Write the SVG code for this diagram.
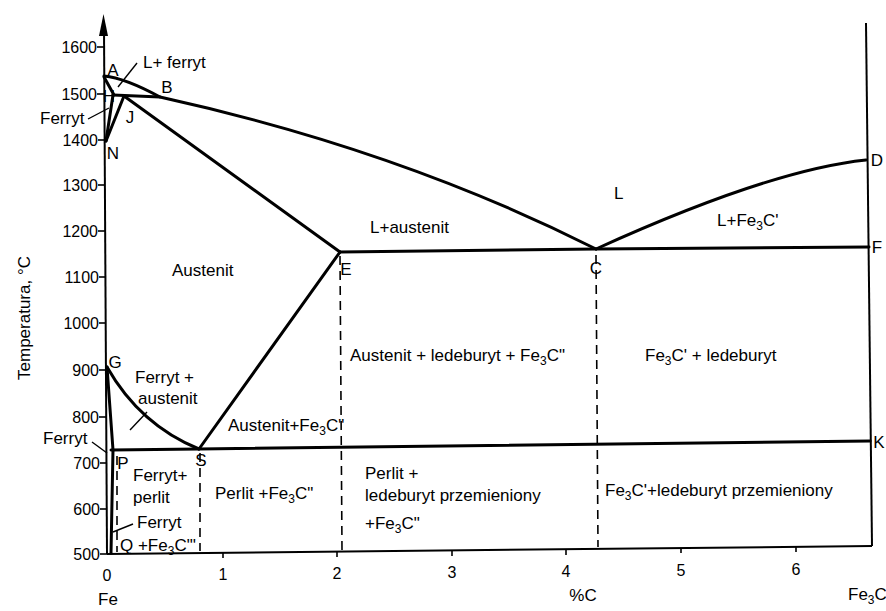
<svg xmlns="http://www.w3.org/2000/svg" width="886" height="611" viewBox="0 0 886 611">
<style>
text{font-family:"Liberation Sans",Arial,sans-serif;fill:#000}
.lbl{font-size:17px}
.num{font-size:16px}
.pt{font-size:17px}
.thick{fill:none;stroke:#000;stroke-width:3;stroke-linejoin:round;stroke-linecap:round}
.axis{fill:none;stroke:#000;stroke-width:2}
.dash{fill:none;stroke:#000;stroke-width:1.6;stroke-dasharray:9,6}
.lead{fill:none;stroke:#000;stroke-width:1.4}
.tick{stroke:#000;stroke-width:1.6}
</style>
<rect width="886" height="611" fill="#fff"/>
<g id="axes">
<line class="axis" x1="107" y1="554" x2="104" y2="28"/>
<polygon points="103.5,14 99,36 108,36" fill="#000"/>
<line class="axis" x1="107" y1="554" x2="872" y2="546"/>
<line class="axis" x1="866" y1="23" x2="872" y2="546"/>
<g id="yticks">
<line class="tick" x1="97" y1="47" x2="104" y2="47"/>
<line class="tick" x1="97" y1="94" x2="104" y2="94"/>
<line class="tick" x1="98" y1="140" x2="105" y2="140"/>
<line class="tick" x1="98" y1="185" x2="105" y2="185"/>
<line class="tick" x1="98" y1="231" x2="105" y2="231"/>
<line class="tick" x1="99" y1="277" x2="106" y2="277"/>
<line class="tick" x1="99" y1="323" x2="106" y2="323"/>
<line class="tick" x1="99" y1="370" x2="106" y2="370"/>
<line class="tick" x1="99" y1="417" x2="106" y2="417"/>
<line class="tick" x1="100" y1="463" x2="107" y2="463"/>
<line class="tick" x1="100" y1="509" x2="107" y2="509"/>
<line class="tick" x1="100" y1="554" x2="107" y2="554"/>
</g>
<g id="xticks">
<line class="tick" x1="223" y1="553" x2="223" y2="558"/>
<line class="tick" x1="337" y1="552" x2="337" y2="557"/>
<line class="tick" x1="452" y1="551" x2="452" y2="556"/>
<line class="tick" x1="566" y1="550" x2="566" y2="555"/>
<line class="tick" x1="681" y1="548" x2="681" y2="553"/>
<line class="tick" x1="796" y1="547" x2="796" y2="552"/>
</g>
<g id="ylabels" class="num" text-anchor="end">
<text class="num" x="97" y="53">1600</text>
<text class="num" x="97" y="100">1500</text>
<text class="num" x="98" y="146">1400</text>
<text class="num" x="98" y="191">1300</text>
<text class="num" x="98" y="237">1200</text>
<text class="num" x="99" y="283">1100</text>
<text class="num" x="99" y="329">1000</text>
<text class="num" x="99" y="376">900</text>
<text class="num" x="99" y="423">800</text>
<text class="num" x="100" y="469">700</text>
<text class="num" x="100" y="515">600</text>
<text class="num" x="100" y="560">500</text>
</g>
<g id="xlabels" text-anchor="middle">
<text class="num" x="107" y="581">0</text>
<text class="num" x="223" y="580">1</text>
<text class="num" x="337" y="579">2</text>
<text class="num" x="452" y="578">3</text>
<text class="num" x="566" y="577">4</text>
<text class="num" x="681" y="576">5</text>
<text class="num" x="796" y="575">6</text>
<text class="lbl" x="108" y="605">Fe</text>
<text class="lbl" x="583" y="601">%C</text>
</g>
<text class="lbl" x="848" y="600">Fe<tspan dy="4" font-size="12">3</tspan><tspan dy="-4">C</tspan></text>
<text class="lbl" transform="translate(30,318) rotate(-90)" text-anchor="middle">Temperatura, °C</text>
</g>
<g id="connectors">
<path id="liquidus-ABC" class="thick" d="M104,76 Q125,78 160,97 Q400,150 596,249"/>
<path id="liquidus-CD" class="thick" d="M596,249 Q770,170 866,160"/>
<path id="AH" class="thick" d="M104,77 L114,95"/>
<path id="HJB" class="thick" d="M113,95 L160,97"/>
<path id="HN" class="thick" d="M113,95 L106,141"/>
<path id="JN" class="thick" d="M124,96 L106,141"/>
<path id="JE" class="thick" d="M124,96 L340,252"/>
<path id="ECF" class="thick" d="M340,252 L596,249 L869,247"/>
<path id="ES" class="thick" d="M340,252 L199,449"/>
<path id="GS" class="thick" d="M107,367 Q140,425 199,449"/>
<path id="GP" class="thick" d="M107,367 L113,450"/>
<path id="PQ" class="thick" d="M113,450 L111,553"/>
<path id="PSK" class="thick" d="M111,450 L199,449 L870,441"/>
<line class="dash" x1="117" y1="456" x2="117" y2="552"/>
<line class="dash" x1="200" y1="453" x2="200" y2="551"/>
<line class="dash" x1="340" y1="256" x2="342" y2="550"/>
<line class="dash" x1="596" y1="255" x2="598" y2="547"/>
<line class="lead" x1="118" y1="87" x2="137" y2="63"/>
<line class="lead" x1="88" y1="119" x2="109" y2="108"/>
<line class="lead" x1="130" y1="430" x2="147" y2="412"/>
<line class="lead" x1="92" y1="442" x2="107" y2="453"/>
<line class="lead" x1="113" y1="532" x2="133" y2="524"/>
</g>
<g id="points" text-anchor="middle">
<text class="pt" x="113" y="76">A</text>
<text class="pt" x="109" y="102" font-size="14">H</text>
<text class="pt" x="167" y="93">B</text>
<text class="pt" x="130" y="123">J</text>
<text class="pt" x="113" y="159">N</text>
<text class="pt" x="115" y="368">G</text>
<text class="pt" x="123" y="469">P</text>
<text class="pt" x="201" y="466">S</text>
<text class="pt" x="346" y="275">E</text>
<text class="pt" x="596" y="274">C</text>
<text class="pt" x="877" y="166">D</text>
<text class="pt" x="877" y="253">F</text>
<text class="pt" x="879" y="448">K</text>
</g>
<g id="regions" class="lbl">
<text class="lbl" x="143" y="68">L+ ferryt</text>
<text class="lbl" x="40" y="124">Ferryt</text>
<text class="lbl" x="614" y="199">L</text>
<text class="lbl" x="717" y="226">L+Fe<tspan dy="4" font-size="12">3</tspan><tspan dy="-4">C'</tspan></text>
<text class="lbl" x="370" y="233">L+austenit</text>
<text class="lbl" x="172" y="276">Austenit</text>
<text class="lbl" x="350" y="361">Austenit + ledeburyt + Fe<tspan dy="4" font-size="12">3</tspan><tspan dy="-4">C"</tspan></text>
<text class="lbl" x="645" y="361">Fe<tspan dy="4" font-size="12">3</tspan><tspan dy="-4">C' + ledeburyt</tspan></text>
<text class="lbl" x="135" y="383">Ferryt +</text>
<text class="lbl" x="138" y="404">austenit</text>
<text class="lbl" x="228" y="431">Austenit+Fe<tspan dy="4" font-size="12">3</tspan><tspan dy="-4">C"</tspan></text>
<text class="lbl" x="43" y="444">Ferryt</text>
<text class="lbl" x="133" y="481">Ferryt+</text>
<text class="lbl" x="133" y="503">perlit</text>
<text class="lbl" x="137" y="528">Ferryt</text>
<text class="lbl" x="120" y="551">Q +Fe<tspan dy="4" font-size="12">3</tspan><tspan dy="-4">C"'</tspan></text>
<text class="lbl" x="215" y="499">Perlit +Fe<tspan dy="4" font-size="12">3</tspan><tspan dy="-4">C"</tspan></text>
<text class="lbl" x="365" y="479">Perlit +</text>
<text class="lbl" x="365" y="501">ledeburyt przemieniony</text>
<text class="lbl" x="365" y="529">+Fe<tspan dy="4" font-size="12">3</tspan><tspan dy="-4">C"</tspan></text>
<text class="lbl" x="605" y="496">Fe<tspan dy="4" font-size="12">3</tspan><tspan dy="-4">C'+ledeburyt  przemieniony</tspan></text>
</g>
</svg>
